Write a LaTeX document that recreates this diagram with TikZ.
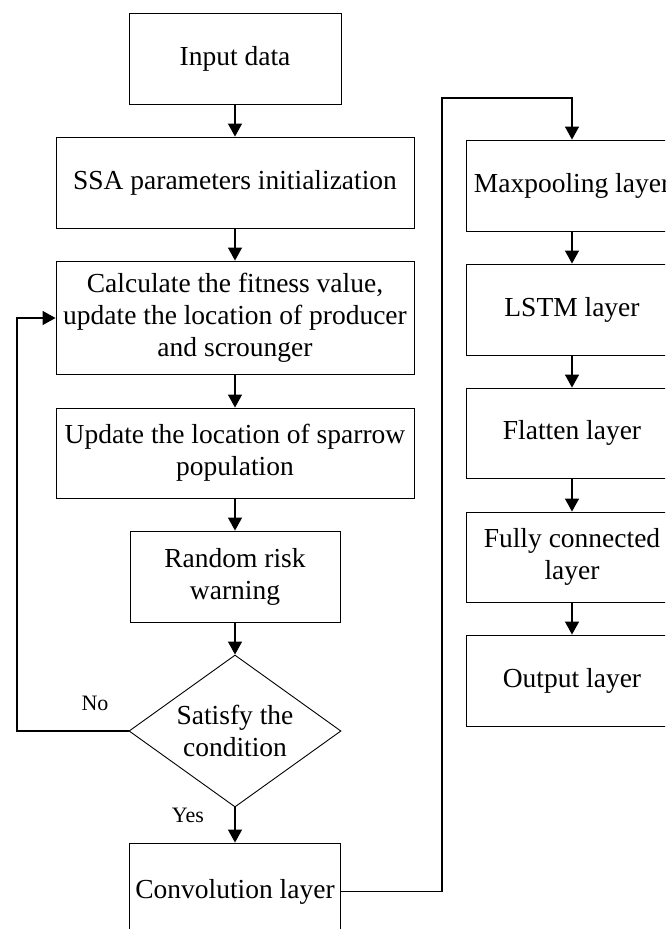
\documentclass[tikz,border=0pt]{standalone}
\usepackage{fontspec}
\setmainfont{Liberation Serif}
\usetikzlibrary{shapes.geometric,arrows.meta}
\begin{document}
\begin{tikzpicture}[x=1pt,y=1pt,
  box/.style={draw, line width=0.9pt, align=center, inner sep=0pt,
    font=\fontsize{27.5}{32}\selectfont},
  dec/.style={draw, diamond, line width=0.9pt, align=center, inner sep=0pt,
    aspect=1.395, minimum width=212pt, minimum height=152pt,
    font=\fontsize{27.5}{32}\selectfont},
  lbl/.style={inner sep=0pt, font=\fontsize{22}{26}\selectfont},
  arr/.style={line width=1.4pt, -{Triangle[width=14pt,length=13pt]}},
  ln/.style={line width=1.4pt}]
\useasboundingbox (0,0) rectangle (665,-929);
\clip (0,0) rectangle (665,-929);
% left column
\node[box, minimum width=212, minimum height=91] (in) at (235,-58.5) {Input data};
\node[box, minimum width=358, minimum height=91] (ssa) at (235,-182.5) {SSA parameters initialization};
\node[box, minimum width=358, minimum height=113] (calc) at (235,-317.5) {Calculate the fitness value,\\update the location of producer\\and scrounger};
\node[box, minimum width=358, minimum height=90] (upd) at (235,-453) {Update the location of sparrow\\population};
\node[box, minimum width=210, minimum height=91] (rnd) at (235,-576.5) {Random risk\\warning};
\node[dec] (dia) at (235,-731) {Satisfy the\\condition};
\node[box, minimum width=211, minimum height=97] (conv) at (235,-891.5) {Convolution layer};
% right column
\node[box, minimum width=212, minimum height=91] (maxp) at (572,-185.5) {Maxpooling layer};
\node[box, minimum width=212, minimum height=91] (lstm) at (572,-309.5) {LSTM layer};
\node[box, minimum width=212, minimum height=90] (flat) at (572,-433) {Flatten layer};
\node[box, minimum width=212, minimum height=90] (fc) at (572,-557) {Fully connected\\layer};
\node[box, minimum width=212, minimum height=91] (out) at (572,-680.5) {Output layer};
% labels
\node[lbl] (no) at (95,-703) {No};
\node[lbl] (yes) at (188,-815) {Yes};
% connectors
\draw[arr] (in) -- (ssa);
\draw[arr] (ssa) -- (calc);
\draw[arr] (calc) -- (upd);
\draw[arr] (upd) -- (rnd);
\draw[arr] (rnd) -- (dia);
\draw[arr] (dia) -- (conv);
\coordinate (c2) at (17,-318);
\draw[arr] (dia.west) -| (c2) -- (c2 -| calc.west);
\coordinate (c1) at (442,-98);
\draw[arr] (conv.east) -| (c1) -| (maxp.north);
\draw[arr] (maxp) -- (lstm);
\draw[arr] (lstm) -- (flat);
\draw[arr] (flat) -- (fc);
\draw[arr] (fc) -- (out);
\end{tikzpicture}
\end{document}
